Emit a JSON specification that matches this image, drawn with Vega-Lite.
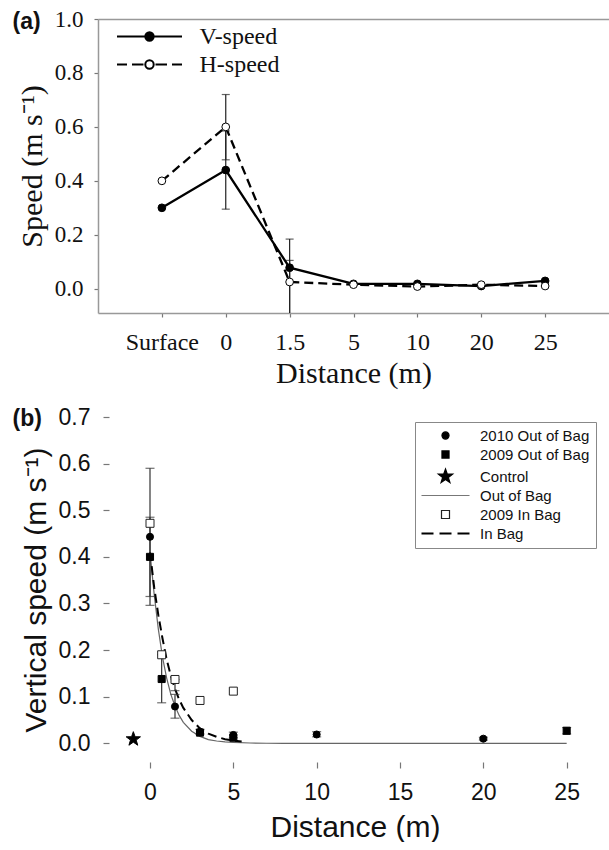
{
  "$schema": "https://vega.github.io/schema/vega-lite/v6.json",
  "padding": {"left": 12, "top": 8, "right": 0, "bottom": 0},
  "autosize": {"type": "pad"},
  "background": "white",
  "config": {
    "view": {"stroke": null},
    "axis": {"grid": false, "labelOverlap": false, "domainWidth": 1.5, "domainColor": "#999", "tickColor": "#777", "tickWidth": 1.2, "titleFontWeight": "normal", "labelColor": "#111", "titleColor": "#111", "labelFlush": false}
  },
  "resolve": {
    "scale": {"fill": "independent", "shape": "independent", "stroke": "independent", "size": "independent", "x": "independent", "y": "independent"},
    "legend": {"fill": "independent", "shape": "independent", "stroke": "independent", "size": "independent"},
    "axis": {"x": "independent", "y": "independent"}
  },
  "datasets": {
    "a_pts": [
      {"d": "Surface", "series": "V-speed", "speed": 0.30},
      {"d": "0", "series": "V-speed", "speed": 0.44},
      {"d": "1.5", "series": "V-speed", "speed": 0.078},
      {"d": "5", "series": "V-speed", "speed": 0.018},
      {"d": "10", "series": "V-speed", "speed": 0.018},
      {"d": "20", "series": "V-speed", "speed": 0.010},
      {"d": "25", "series": "V-speed", "speed": 0.029},
      {"d": "Surface", "series": "H-speed", "speed": 0.40},
      {"d": "0", "series": "H-speed", "speed": 0.60},
      {"d": "1.5", "series": "H-speed", "speed": 0.025},
      {"d": "5", "series": "H-speed", "speed": 0.015},
      {"d": "10", "series": "H-speed", "speed": 0.008},
      {"d": "20", "series": "H-speed", "speed": 0.015},
      {"d": "25", "series": "H-speed", "speed": 0.010}
    ],
    "a_err": [
      {"d": "0", "series": "V-speed", "lo": 0.295, "hi": 0.585},
      {"d": "0", "series": "H-speed", "lo": 0.478, "hi": 0.72},
      {"d": "1.5", "series": "V-speed", "lo": -0.12, "hi": 0.184},
      {"d": "1.5", "series": "H-speed", "lo": -0.12, "hi": 0.105}
    ],
    "b_pts": [
      {"x": 0, "series": "2010 Out of Bag", "v": 0.443},
      {"x": 1.5, "series": "2010 Out of Bag", "v": 0.079},
      {"x": 3, "series": "2010 Out of Bag", "v": 0.025},
      {"x": 5, "series": "2010 Out of Bag", "v": 0.018},
      {"x": 10, "series": "2010 Out of Bag", "v": 0.019},
      {"x": 20, "series": "2010 Out of Bag", "v": 0.010},
      {"x": 0, "series": "2009 Out of Bag", "v": 0.400},
      {"x": 0.7, "series": "2009 Out of Bag", "v": 0.138},
      {"x": 3, "series": "2009 Out of Bag", "v": 0.023},
      {"x": 5, "series": "2009 Out of Bag", "v": 0.012},
      {"x": 25, "series": "2009 Out of Bag", "v": 0.027},
      {"x": -1, "series": "Control", "v": 0.009},
      {"x": 0, "series": "2009 In Bag", "v": 0.472},
      {"x": 0.7, "series": "2009 In Bag", "v": 0.190},
      {"x": 1.5, "series": "2009 In Bag", "v": 0.137},
      {"x": 3, "series": "2009 In Bag", "v": 0.092},
      {"x": 5, "series": "2009 In Bag", "v": 0.112}
    ],
    "b_err": [
      {"x": 0, "lo": 0.296, "hi": 0.59},
      {"x": 0, "lo": 0.315, "hi": 0.485},
      {"x": 0.7, "lo": 0.087, "hi": 0.19},
      {"x": 1.5, "lo": 0.054, "hi": 0.105},
      {"x": 1.5, "lo": 0.113, "hi": 0.137},
      {"x": 3, "lo": 0.020, "hi": 0.030},
      {"x": 5, "lo": 0.012, "hi": 0.024},
      {"x": 10, "lo": 0.014, "hi": 0.025},
      {"x": 20, "lo": 0.007, "hi": 0.013},
      {"x": 25, "lo": 0.020, "hi": 0.034}
    ],
    "b_fit_out": [
      {"x": 0, "v": 0.41}, {"x": 0.25, "v": 0.32}, {"x": 0.5, "v": 0.245}, {"x": 0.75, "v": 0.185},
      {"x": 1, "v": 0.14}, {"x": 1.25, "v": 0.105}, {"x": 1.5, "v": 0.08}, {"x": 1.75, "v": 0.06},
      {"x": 2, "v": 0.045}, {"x": 2.5, "v": 0.026}, {"x": 3, "v": 0.015}, {"x": 3.5, "v": 0.008},
      {"x": 4, "v": 0.005}, {"x": 4.5, "v": 0.003}, {"x": 5, "v": 0.002}, {"x": 6, "v": 0.0008},
      {"x": 7, "v": 0.0002}, {"x": 8, "v": 0}, {"x": 25, "v": 0}
    ],
    "b_fit_in": [
      {"x": 0, "v": 0.41}, {"x": 0.25, "v": 0.335}, {"x": 0.5, "v": 0.275}, {"x": 0.75, "v": 0.225},
      {"x": 1, "v": 0.18}, {"x": 1.25, "v": 0.145}, {"x": 1.5, "v": 0.117}, {"x": 1.75, "v": 0.094},
      {"x": 2, "v": 0.076}, {"x": 2.5, "v": 0.05}, {"x": 3, "v": 0.032}, {"x": 3.5, "v": 0.021},
      {"x": 4, "v": 0.014}, {"x": 4.5, "v": 0.009}, {"x": 5, "v": 0.006}, {"x": 5.5, "v": 0.004}
    ]
  },
  "concat": [
    {
      "width": 511,
      "height": 294,
      "view": {"stroke": null},
      "resolve": {"axis": {"x": "independent"}},
      "encoding": {
        "x": {"field": "d", "type": "ordinal", "scale": {"type": "point", "domain": ["Surface", "0", "1.5", "5", "10", "20", "25"], "padding": 1}, "axis": null}
      },
      "layer": [
        {
          "data": {"name": "a_err"},
          "mark": {"type": "rule", "color": "#222", "strokeWidth": 1.2, "clip": true},
          "encoding": {
            "x": {"field": "d", "type": "ordinal", "scale": {"type": "point", "domain": ["Surface", "0", "1.5", "5", "10", "20", "25"], "padding": 1},
              "axis": {"title": "Distance (m)", "labelAngle": 0, "tickSize": 4, "labelPadding": 13, "labelFont": "Liberation Serif", "labelFontSize": 24, "titleFont": "Liberation Serif", "titleFontSize": 30, "titlePadding": 4}},
            "y": {"field": "lo", "type": "quantitative", "scale": {"domain": [-0.09, 1.0], "nice": false, "zero": false},
              "axis": {"title": "Speed (m s⁻¹)", "values": [0, 0.2, 0.4, 0.6, 0.8, 1.0], "format": ".1f", "tickSize": 4, "labelPadding": 11, "labelFont": "Liberation Serif", "labelFontSize": 23, "titleFont": "Liberation Serif", "titleFontSize": 30, "titlePadding": 7}},
            "y2": {"field": "hi"}
          }
        },
        {
          "data": {"name": "a_err"},
          "mark": {"type": "tick", "orient": "horizontal", "size": 8, "thickness": 1.2, "color": "#222", "clip": true},
          "encoding": {
            "x": {"field": "d", "type": "ordinal", "scale": {"type": "point", "domain": ["Surface", "0", "1.5", "5", "10", "20", "25"], "padding": 1},
              "axis": {"orient": "top", "domain": true, "domainColor": "#999", "domainWidth": 1.5, "ticks": false, "labels": false, "title": "(a)", "titleX": -86, "titleY": 2, "titleAlign": "left", "titleBaseline": "middle", "titleAngle": 0, "titleFont": "Liberation Sans", "titleFontSize": 23, "titleFontWeight": "bold", "titleColor": "#111"}},
            "y": {"field": "hi", "type": "quantitative"}
          }
        },
        {
          "data": {"name": "a_err"},
          "mark": {"type": "tick", "orient": "horizontal", "size": 8, "thickness": 1.2, "color": "#222", "clip": true},
          "encoding": {"y": {"field": "lo", "type": "quantitative"}}
        },
        {
          "data": {"name": "a_pts"},
          "transform": [{"filter": "datum.series === 'V-speed'"}],
          "mark": {"type": "line", "color": "black", "strokeWidth": 2.3},
          "encoding": {"y": {"field": "speed", "type": "quantitative"}, "order": {"value": null}}
        },
        {
          "data": {"name": "a_pts"},
          "transform": [{"filter": "datum.series === 'H-speed'"}],
          "mark": {"type": "line", "color": "black", "strokeWidth": 2.3, "strokeDash": [9, 5]},
          "encoding": {"y": {"field": "speed", "type": "quantitative"}, "order": {"value": null}}
        },
        {
          "data": {"name": "a_pts"},
          "mark": {"type": "point", "filled": true, "shape": "circle", "size": 60, "stroke": "black", "strokeWidth": 1, "opacity": 1},
          "encoding": {
            "y": {"field": "speed", "type": "quantitative"},
            "fill": {"field": "series", "type": "nominal", "scale": {"domain": ["V-speed", "H-speed"], "range": ["black", "white"]},
              "legend": {"title": null, "orient": "none", "legendX": 16.5, "legendY": 5.5, "padding": 0, "symbolOffset": 23, "labelOffset": 38, "labelFont": "Liberation Serif", "labelFontSize": 24, "labelColor": "#111", "rowPadding": 4, "symbolSize": 400, "symbolStrokeWidth": 2,
                "encoding": {"symbols": {
                  "shape": {"value": {"expr": "datum.value === 'V-speed' ? 'M-3.25,0H3.25M0.42,0A0.42,0.42,0,1,1,-0.42,0A0.42,0.42,0,1,1,0.42,0Z' : 'M-3.25,0H-2.25M-1.75,0H-0.6M0.6,0H1.75M2.25,0H3.25M0.42,0A0.42,0.42,0,1,1,-0.42,0A0.42,0.42,0,1,1,0.42,0Z'"}},
                  "stroke": {"value": "black"},
                  "strokeWidth": {"value": 2},
                  "size": {"value": 400},
                  "opacity": {"value": 1}
                }}}}
          }
        }
      ]
    },
    {
      "width": 503,
      "height": 345,
      "view": {"stroke": null},
      "resolve": {"axis": {"x": "independent"}},
      "encoding": {
        "x": {"field": "x", "type": "quantitative", "scale": {"domain": [-3.12, 27.06], "nice": false, "zero": false}, "axis": null}
      },
      "layer": [
        {
          "data": {"name": "b_fit_out"},
          "mark": {"type": "line", "color": "#666", "strokeWidth": 1.2},
          "encoding": {
            "x": {"field": "x", "type": "quantitative", "scale": {"domain": [-3.12, 27.06], "nice": false, "zero": false},
              "axis": {"title": "Distance (m)", "titleX": 257, "values": [0, 5, 10, 15, 20, 25], "domain": false, "tickSize": 6, "labelPadding": 13, "labelFont": "Liberation Sans", "labelFontSize": 23, "titleFont": "Liberation Sans", "titleFontSize": 30, "titlePadding": 8}},
            "y": {"field": "v", "type": "quantitative", "scale": {"domain": [-0.04, 0.7], "nice": false, "zero": false},
              "axis": {"title": "Vertical speed (m s⁻¹)", "offset": -11, "values": [0, 0.1, 0.2, 0.3, 0.4, 0.5, 0.6, 0.7], "format": ".1f", "domain": false, "tickSize": 6, "labelPadding": 13, "labelFont": "Liberation Sans", "labelFontSize": 23, "titleFont": "Liberation Sans", "titleFontSize": 30, "titlePadding": 7}}
          }
        },
        {
          "data": {"name": "b_fit_in"},
          "mark": {"type": "line", "color": "black", "strokeWidth": 2, "strokeDash": [9, 5]},
          "encoding": {
            "x": {"field": "x", "type": "quantitative", "scale": {"domain": [-3.12, 27.06], "nice": false, "zero": false},
              "axis": {"orient": "top", "domain": false, "ticks": false, "labels": false, "title": "(b)", "titleX": -86, "titleY": 1, "titleAlign": "left", "titleBaseline": "middle", "titleAngle": 0, "titleFont": "Liberation Sans", "titleFontSize": 23, "titleFontWeight": "bold", "titleColor": "#111"}},
            "y": {"field": "v", "type": "quantitative"}
          }
        },
        {
          "data": {"values": [{}]},
          "mark": {"type": "rule", "color": "#999", "strokeWidth": 1.5},
          "encoding": {"x": {"datum": -2.46, "type": "quantitative"}}
        },
        {
          "data": {"values": [{}]},
          "mark": {"type": "rule", "color": "#999", "strokeWidth": 1.5},
          "encoding": {"x": {"datum": 27.06, "type": "quantitative"}}
        },
        {
          "data": {"values": [{}]},
          "mark": {"type": "rule", "color": "#999", "strokeWidth": 1.5},
          "encoding": {"x": {"datum": -2.46, "type": "quantitative"}, "x2": {"datum": 27.06}, "y": {"datum": 0.7, "type": "quantitative"}}
        },
        {
          "data": {"values": [{}]},
          "mark": {"type": "rule", "color": "#999", "strokeWidth": 1.5},
          "encoding": {"x": {"datum": -2.46, "type": "quantitative"}, "x2": {"datum": 27.06}, "y": {"datum": -0.04, "type": "quantitative"}}
        },
        {
          "data": {"name": "b_err"},
          "mark": {"type": "rule", "color": "#333", "strokeWidth": 1.2},
          "encoding": {"y": {"field": "lo", "type": "quantitative"}, "y2": {"field": "hi"}}
        },
        {
          "data": {"name": "b_err"},
          "mark": {"type": "tick", "orient": "horizontal", "size": 9, "thickness": 1.2, "color": "#333"},
          "encoding": {"y": {"field": "lo", "type": "quantitative"}}
        },
        {
          "data": {"name": "b_err"},
          "mark": {"type": "tick", "orient": "horizontal", "size": 9, "thickness": 1.2, "color": "#333"},
          "encoding": {"y": {"field": "hi", "type": "quantitative"}}
        },
        {
          "data": {"name": "b_pts"},
          "mark": {"type": "point", "filled": true, "strokeWidth": 1, "opacity": 1},
          "encoding": {
            "y": {"field": "v", "type": "quantitative"},
            "shape": {"field": "series", "type": "nominal",
              "scale": {"domain": ["2010 Out of Bag", "2009 Out of Bag", "Control", "Out of Bag", "2009 In Bag", "In Bag"],
                "range": ["circle", "square", "M0,-1L0.235,-0.324L0.951,-0.309L0.38,0.124L0.588,0.809L0,0.4L-0.588,0.809L-0.38,0.124L-0.951,-0.309L-0.235,-0.324Z", "M-3.2,0H3.2", "square", "M-3.2,0H-1.6M-0.8,0H0.8M1.6,0H3.2"]},
              "legend": {"title": null, "orient": "top-right", "offset": 5, "padding": 6, "strokeColor": "#888", "fillColor": "white", "symbolOffset": 17, "labelOffset": 27, "labelFont": "Liberation Sans", "labelFontSize": 15, "labelColor": "#111", "rowPadding": 3,
                "encoding": {"symbols": {"strokeWidth": {"value": {"expr": "datum.value === 'In Bag' ? 2 : 1.2"}}, "opacity": {"value": 1}}}}},
            "fill": {"field": "series", "type": "nominal",
              "scale": {"domain": ["2010 Out of Bag", "2009 Out of Bag", "Control", "Out of Bag", "2009 In Bag", "In Bag"],
                "range": ["black", "black", "black", "transparent", "white", "transparent"]}},
            "stroke": {"field": "series", "type": "nominal",
              "scale": {"domain": ["2010 Out of Bag", "2009 Out of Bag", "Control", "Out of Bag", "2009 In Bag", "In Bag"],
                "range": ["black", "black", "black", "#777", "#222", "black"]}},
            "size": {"field": "series", "type": "nominal",
              "scale": {"type": "ordinal", "domain": ["2010 Out of Bag", "2009 Out of Bag", "Control", "Out of Bag", "2009 In Bag", "In Bag"],
                "range": [50, 50, 225, 225, 64, 225]}}
          }
        }
      ]
    }
  ],
  "columns": 1,
  "align": "none",
  "spacing": 18
}
